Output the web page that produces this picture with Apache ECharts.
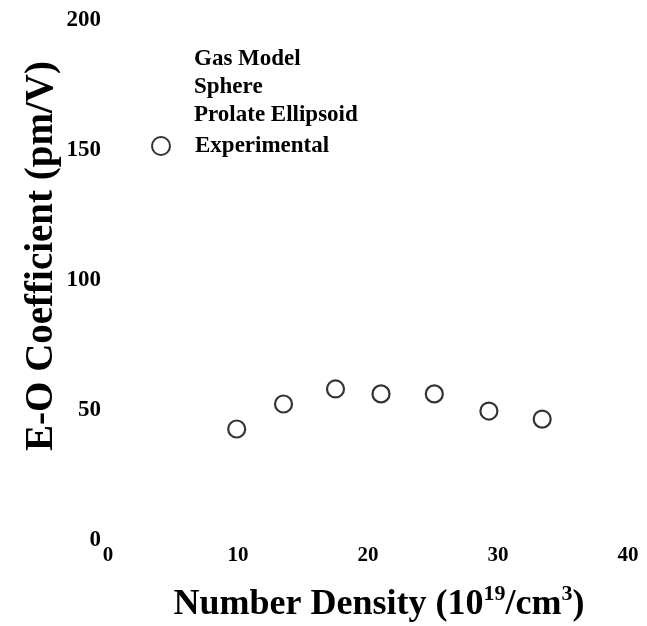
<!DOCTYPE html>
<html>
<head>
<meta charset="utf-8">
<script src="https://cdn.jsdelivr.net/npm/echarts@6/dist/echarts.min.js"></script>
<style>
html,body{margin:0;padding:0;background:#fff;}
#chart{width:647px;height:626px;}
</style>
</head>
<body>
<div id="chart"></div>
<script>
var densityX = [9.9, 13.5, 17.5, 21.0, 25.1, 29.3, 33.4];
var experimentalY = [42.7, 52.3, 58.1, 56.2, 56.2, 49.6, 46.5];
var modelNames = ['Gas Model', 'Sphere', 'Prolate Ellipsoid'];
var xTicks = [0, 10, 20, 30, 40];
var yTicks = [0, 50, 100, 150, 200];

var FONT = '"Liberation Serif", "Times New Roman", serif';
var chart = echarts.init(document.getElementById('chart'));

var expData = densityX.map(function (x, i) { return [x, experimentalY[i]]; });

var series = modelNames.map(function (n) {
  return { name: n, type: 'line', data: [], symbol: 'none', lineStyle: { color: '#000', width: 2 } };
});
series.push({
  name: 'Experimental',
  type: 'scatter',
  data: expData,
  symbol: 'circle',
  symbolSize: 17,
  itemStyle: { color: '#fff', borderColor: '#000', borderWidth: 2.2 }
});

var legendText = { fontFamily: FONT, fontWeight: 'bold', fontSize: 23, color: '#000', padding: [0, 0, 0, 20], lineHeight: 24 };

chart.setOption({
  animation: false,
  backgroundColor: '#fff',
  grid: { left: 108, right: 19, top: 20, bottom: 86, containLabel: false },
  legend: [{
    orient: 'vertical',
    left: 151,
    top: 47,
    padding: 0,
    itemWidth: 18,
    itemHeight: 18,
    itemGap: 4,
    selectedMode: false,
    data: modelNames.map(function (n) { return { name: n, icon: 'none' }; }),
    textStyle: legendText
  }, {
    orient: 'vertical',
    left: 151,
    top: 134,
    padding: 0,
    itemWidth: 18,
    itemHeight: 18,
    selectedMode: false,
    data: ['Experimental'],
    textStyle: legendText
  }],
  xAxis: {
    type: 'value',
    min: xTicks[0],
    max: xTicks[xTicks.length - 1],
    interval: 10,
    axisLine: { show: false },
    axisTick: { show: false },
    splitLine: { show: false },
    axisLabel: { fontFamily: FONT, fontWeight: 'bold', fontSize: 21, color: '#000', margin: 5 }
  },
  yAxis: {
    type: 'value',
    min: yTicks[0],
    max: yTicks[yTicks.length - 1],
    interval: 50,
    axisLine: { show: false },
    axisTick: { show: false },
    splitLine: { show: false },
    axisLabel: { fontFamily: FONT, fontWeight: 'bold', fontSize: 23, color: '#000', margin: 7 }
  },
  graphic: [{
    type: 'text',
    x: 379,
    y: 603,
    style: {
      text: '{b|Number Density (10}{s|19}{b|/cm}{s|3}{b|)}',
      align: 'center',
      verticalAlign: 'middle',
      rich: {
        b: { fontFamily: FONT, fontWeight: 'bold', fontSize: 36, fill: '#000', lineHeight: 40, verticalAlign: 'bottom' },
        s: { fontFamily: FONT, fontWeight: 'bold', fontSize: 22, fill: '#000', lineHeight: 40, verticalAlign: 'top', padding: [0, 0, 10, 0] }
      }
    }
  }, {
    type: 'text',
    x: 42,
    y: 256,
    rotation: Math.PI / 2,
    style: {
      text: 'E-O Coefficient (pm/V)',
      fontFamily: FONT,
      fontWeight: 'bold',
      fontSize: 39,
      fill: '#000',
      align: 'center',
      verticalAlign: 'middle'
    }
  }],
  series: series
});
</script>
</body>
</html>
